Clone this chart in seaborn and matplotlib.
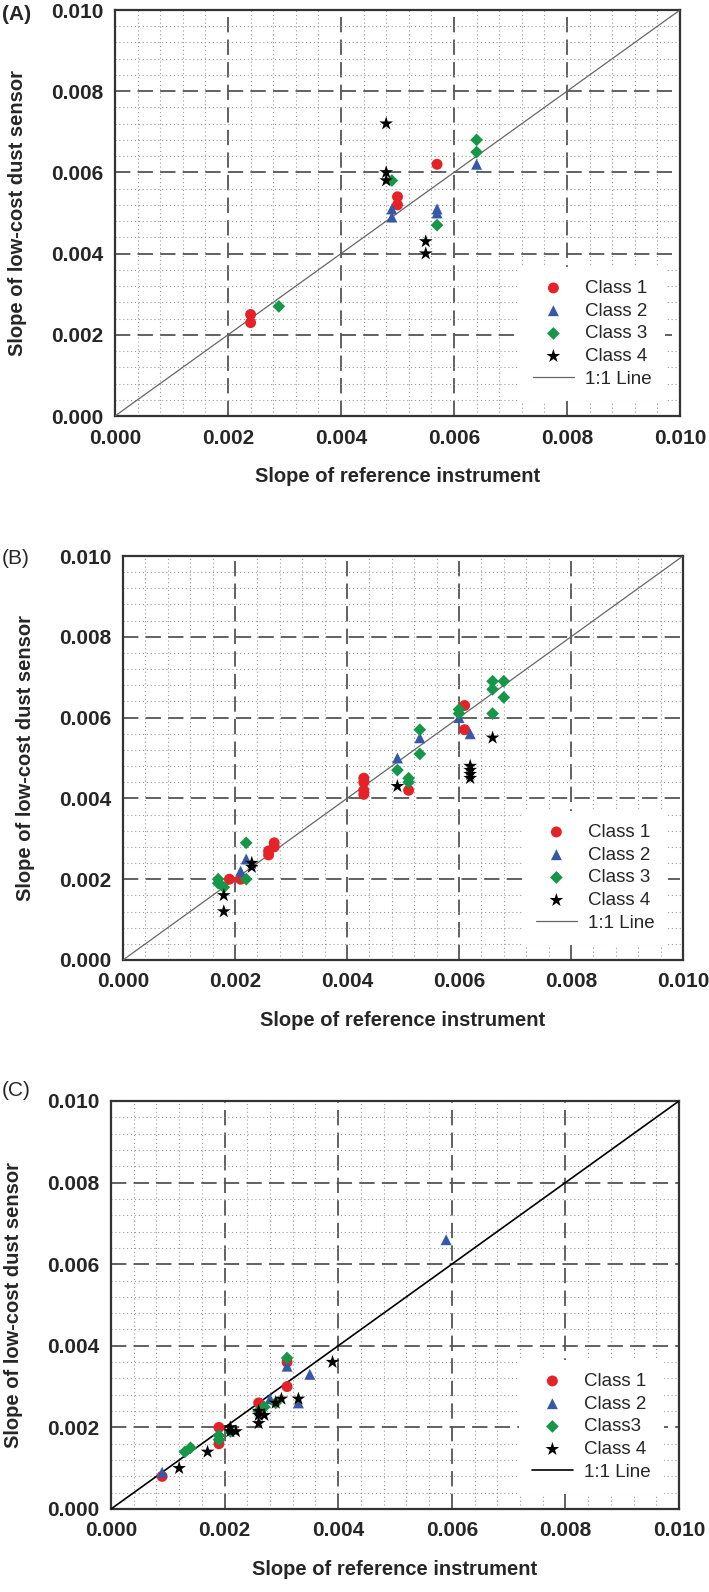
#!/usr/bin/env python
# coding: utf-8

import numpy as np
import pandas as pd
import seaborn as sns
import matplotlib.pyplot as plt
from matplotlib.ticker import MultipleLocator

# Panel (A)
a_c1_x = [0.0024, 0.0024, 0.0050, 0.0050, 0.0057]
a_c1_y = [0.0025, 0.0023, 0.0054, 0.0052, 0.0062]
a_c2_x = [0.0049, 0.0049, 0.0057, 0.0057, 0.0064]
a_c2_y = [0.0051, 0.0049, 0.0051, 0.0050, 0.0062]
a_c3_x = [0.0029, 0.0049, 0.0057, 0.0064, 0.0064]
a_c3_y = [0.0027, 0.0058, 0.0047, 0.0068, 0.0065]
a_c4_x = [0.0048, 0.0048, 0.0048, 0.0055, 0.0055]
a_c4_y = [0.0072, 0.0060, 0.0058, 0.0043, 0.0040]

# Panel (B)
b_c1_x = [0.0019, 0.0021, 0.0026, 0.0026, 0.0027, 0.0027,
          0.0043, 0.0043, 0.0043, 0.0043, 0.0051, 0.0061, 0.0061]
b_c1_y = [0.0020, 0.0020, 0.0026, 0.0027, 0.0028, 0.0029,
          0.0045, 0.0044, 0.0042, 0.0041, 0.0042, 0.0063, 0.0057]
b_c2_x = [0.0021, 0.0022, 0.0049, 0.0053, 0.0060, 0.0062]
b_c2_y = [0.0022, 0.0025, 0.0050, 0.0055, 0.0060, 0.0056]
b_c3_x = [0.0017, 0.0017, 0.0018, 0.0022, 0.0022, 0.0049, 0.0051, 0.0051,
          0.0053, 0.0053, 0.0060, 0.0060, 0.0066, 0.0066, 0.0066, 0.0068, 0.0068]
b_c3_y = [0.0020, 0.0019, 0.0018, 0.0029, 0.0020, 0.0047, 0.0045, 0.0044,
          0.0057, 0.0051, 0.0062, 0.0061, 0.0069, 0.0067, 0.0061, 0.0069, 0.0065]
b_c4_x = [0.0018, 0.0018, 0.0023, 0.0023, 0.0049, 0.0062, 0.0062, 0.0062, 0.0062, 0.0066]
b_c4_y = [0.0016, 0.0012, 0.0024, 0.0023, 0.0043, 0.0048, 0.0047, 0.0046, 0.0045, 0.0055]

# Panel (C)
c_c1_x = [0.0009, 0.0019, 0.0019, 0.0026, 0.0031, 0.0031]
c_c1_y = [0.0008, 0.0020, 0.0016, 0.0026, 0.0030, 0.0036]
c_c2_x = [0.0009, 0.0028, 0.0031, 0.0033, 0.0035, 0.0059]
c_c2_y = [0.0009, 0.0027, 0.0035, 0.0026, 0.0033, 0.0066]
c_c3_x = [0.0013, 0.0014, 0.0019, 0.0019, 0.0021, 0.0026, 0.0027, 0.0029, 0.0031]
c_c3_y = [0.0014, 0.0015, 0.0017, 0.0018, 0.0019, 0.0024, 0.0025, 0.0026, 0.0037]
c_c4_x = [0.0012, 0.0017, 0.0021, 0.0021, 0.0022, 0.0026, 0.0026, 0.0026,
          0.0027, 0.0029, 0.0030, 0.0033, 0.0039]
c_c4_y = [0.0010, 0.0014, 0.0020, 0.0019, 0.0019, 0.0024, 0.0023, 0.0021,
          0.0023, 0.0026, 0.0027, 0.0027, 0.0036]

panel_names = ["(A)", "(B)", "(C)"]
class_names = [
    ["Class 1", "Class 2", "Class 3", "Class 4"],
    ["Class 1", "Class 2", "Class 3", "Class 4"],
    ["Class 1", "Class 2", "Class3", "Class 4"],
]
ticks = [0.000, 0.002, 0.004, 0.006, 0.008, 0.010]
tick_labels = ["0.000", "0.002", "0.004", "0.006", "0.008", "0.010"]

panels = [
    [(a_c1_x, a_c1_y), (a_c2_x, a_c2_y), (a_c3_x, a_c3_y), (a_c4_x, a_c4_y)],
    [(b_c1_x, b_c1_y), (b_c2_x, b_c2_y), (b_c3_x, b_c3_y), (b_c4_x, b_c4_y)],
    [(c_c1_x, c_c1_y), (c_c2_x, c_c2_y), (c_c3_x, c_c3_y), (c_c4_x, c_c4_y)],
]

colors = ["#e52228", "#3658a8", "#159648", "#000000"]
markers = ["o", "^", "D", "*"]
sizes = [62, 62, 42, 108]

sns.set_theme(style="white")
plt.rcParams["font.family"] = ["Liberation Sans", "DejaVu Sans"]

fig = plt.figure(figsize=(7.09, 15.92), dpi=100)
# axes boxes in pixels: left, top, right, bottom
boxes = [(115, 10, 680, 416), (123, 556, 683, 960), (111, 1101, 679, 1509)]
label_y = [15, 558, 1091]
W, H = 709.0, 1592.0

for i, (box, data) in enumerate(zip(boxes, panels)):
    l, t, r, b = box
    ax = fig.add_axes([l / W, 1 - b / H, (r - l) / W, (b - t) / H])

    for j, (xs, ys) in enumerate(data):
        df = pd.DataFrame({"x": xs, "y": ys})
        sns.scatterplot(data=df, x="x", y="y", ax=ax, marker=markers[j],
                        color=colors[j], s=sizes[j], edgecolor="none",
                        label=class_names[i][j], zorder=4)

    if i == 2:
        ax.plot([0, 0.01], [0, 0.01], color="black", lw=1.2, label="1:1 Line", zorder=3)
    else:
        ax.plot([0, 0.01], [0, 0.01], color="#666666", lw=0.9, label="1:1 Line", zorder=3)

    ax.set_xlim(0, 0.01)
    ax.set_ylim(0, 0.01)
    ax.set_xticks(ticks)
    ax.set_yticks(ticks)
    ax.set_xticklabels(tick_labels)
    ax.set_yticklabels(tick_labels)
    ax.xaxis.set_minor_locator(MultipleLocator(0.0004))
    ax.yaxis.set_minor_locator(MultipleLocator(0.0004))
    ax.grid(which="major", color="#555555", lw=1.3, linestyle=(0, (8.5, 4)), zorder=1)
    ax.grid(which="minor", color="#9a9a9a", lw=0.8, linestyle=(0, (1, 2.5)), zorder=1)
    ax.set_axisbelow(True)
    ax.tick_params(which="both", length=0)
    ax.tick_params(axis="x", pad=9)
    ax.tick_params(axis="y", pad=8.5)
    for lab in ax.get_xticklabels() + ax.get_yticklabels():
        lab.set_fontsize(15)
        lab.set_fontweight("bold")
    for sp in ax.spines.values():
        sp.set_color("#333333")
        sp.set_linewidth(1.6)

    ax.set_xlabel("Slope of reference instrument", fontsize=14.5, fontweight="bold", labelpad=14)
    ax.set_ylabel("Slope of low-cost dust sensor", fontsize=14.5, fontweight="bold", labelpad=17)

    ax.legend(loc="lower right", fontsize=13.5, frameon=True, facecolor="white",
              edgecolor="none", framealpha=1, fancybox=False, borderaxespad=0.8,
              handletextpad=0.6, labelspacing=0.3, handlelength=2.2, borderpad=0.7)

    fig.text(2 / W, 1 - label_y[i] / H, panel_names[i], fontsize=15,
             fontweight="bold" if i == 0 else "normal", va="center", ha="left")

fig.savefig("out.png", dpi=100)
